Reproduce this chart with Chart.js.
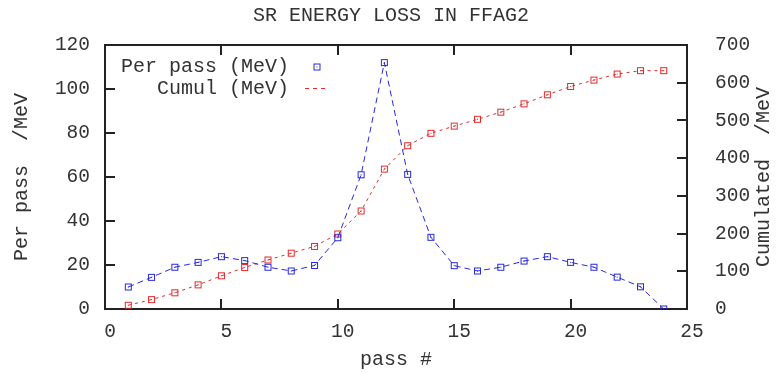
<!DOCTYPE html>
<html>
<head>
<meta charset="utf-8">
<script src="https://cdn.jsdelivr.net/npm/chart.js@4/dist/chart.umd.min.js"></script>
<style>
  html, body { margin: 0; padding: 0; background: #fff; }
  canvas { display: block; }
</style>
</head>
<body>
<canvas id="c" width="782" height="373"></canvas>
<script>
const passes = [1, 2, 3, 4, 5, 6, 7, 8, 9, 10, 11, 12, 13, 14, 15, 16, 17, 18, 19, 20, 21, 22, 23, 24];
const perPass = [10, 14.4, 19, 21.2, 23.8, 22, 19, 17.3, 19.8, 32.4, 61, 112, 61.2, 32.6, 19.7, 17.3, 19, 21.8, 23.8, 21.2, 19, 14.5, 10.1, 0];
const cumul = [10, 25, 43, 64, 88, 110, 130, 148, 166, 199, 260, 371, 433, 466, 485, 503, 522, 544, 568, 590, 607, 623, 632, 632];
const xTicks = [0, 5, 10, 15, 20, 25];
const yTicks = [0, 20, 40, 60, 80, 100, 120];
const y2Ticks = [0, 100, 200, 300, 400, 500, 600, 700];

const FONT = "'Liberation Mono', 'Courier New', monospace";
const TEXT = '#333';
const BLUE = 'rgb(40,40,220)';
const RED = 'rgb(230,40,40)';

function marker(color) {
  const c = document.createElement('canvas');
  c.width = 9; c.height = 9;
  const g = c.getContext('2d');
  g.strokeStyle = color; g.lineWidth = 1;
  g.strokeRect(1.5, 1.5, 6, 6);
  g.fillStyle = color;
  g.fillRect(4, 4, 1, 1);
  return c;
}
const blueMarker = marker(BLUE);
const redMarker = marker(RED);

const decor = {
  id: 'decor',
  beforeDatasetsDraw(chart) {
    const { ctx, chartArea: a, scales } = chart;
    ctx.save();
    ctx.strokeStyle = '#222';
    ctx.lineWidth = 2;
    ctx.strokeRect(a.left, a.top, a.right - a.left, a.bottom - a.top);
    const L = 10;
    ctx.beginPath();
    xTicks.slice(1, -1).forEach(v => {
      const px = Math.round(scales.x.getPixelForValue(v));
      ctx.moveTo(px, a.bottom); ctx.lineTo(px, a.bottom - L);
      ctx.moveTo(px, a.top); ctx.lineTo(px, a.top + L);
    });
    yTicks.slice(1, -1).forEach(v => {
      const py = Math.round(scales.y.getPixelForValue(v));
      ctx.moveTo(a.left, py); ctx.lineTo(a.left + L, py);
    });
    y2Ticks.slice(1, -1).forEach(v => {
      const py = Math.round(scales.y2.getPixelForValue(v));
      ctx.moveTo(a.right, py); ctx.lineTo(a.right - L, py);
    });
    ctx.stroke();
    ctx.restore();
  },
  afterDraw(chart) {
    const { ctx, chartArea: a } = chart;
    ctx.save();
    ctx.fillStyle = TEXT;
    ctx.font = '20px ' + FONT;
    ctx.textBaseline = 'middle';
    // axis titles
    ctx.textAlign = 'center';
    ctx.fillText('pass #', (a.left + a.right) / 2, 360);
    const cy = (a.top + a.bottom) / 2;
    ctx.save();
    ctx.translate(22, cy); ctx.rotate(-Math.PI / 2);
    ctx.fillText('Per pass  /MeV', 0, 0);
    ctx.restore();
    ctx.save();
    ctx.translate(764, cy); ctx.rotate(-Math.PI / 2);
    ctx.fillText('Cumulated  /MeV', 0, 0);
    ctx.restore();
    // legend
    ctx.textAlign = 'right';
    ctx.fillText('Per pass (MeV)', 289, 67);
    ctx.fillText('Cumul (MeV)', 289, 89);
    ctx.drawImage(blueMarker, 317 - 4.5, 67 - 4.5);
    ctx.strokeStyle = RED; ctx.lineWidth = 1;
    ctx.setLineDash([4, 4]);
    ctx.beginPath(); ctx.moveTo(305, 88.5); ctx.lineTo(329, 88.5); ctx.stroke();
    ctx.restore();
  }
};

const tickFont = { family: FONT, size: 19.5 };

new Chart(document.getElementById('c'), {
  type: 'line',
  data: {
    datasets: [
      {
        label: 'Per pass (MeV)',
        data: passes.map((p, i) => ({ x: p, y: perPass[i] })),
        yAxisID: 'y',
        borderColor: BLUE, borderWidth: 1, borderDash: [6, 4],
        pointStyle: blueMarker, fill: false, tension: 0
      },
      {
        label: 'Cumul (MeV)',
        data: passes.map((p, i) => ({ x: p, y: cumul[i] })),
        yAxisID: 'y2',
        borderColor: RED, borderWidth: 1, borderDash: [3, 4],
        pointStyle: redMarker, fill: false, tension: 0
      }
    ]
  },
  options: {
    responsive: false,
    animation: false,
    devicePixelRatio: 1,
    layout: { padding: 0 },
    plugins: {
      legend: { display: false },
      tooltip: { enabled: false },
      title: {
        display: true,
        text: 'SR ENERGY LOSS IN FFAG2',
        color: TEXT,
        font: { family: FONT, size: 20, weight: 'normal' },
        padding: { top: 4, bottom: 17 }
      }
    },
    scales: {
      x: {
        type: 'linear', min: 0, max: 25,
        afterBuildTicks: s => { s.ticks = xTicks.map(v => ({ value: v })); },
        ticks: { font: tickFont, color: TEXT, padding: 11, labelOffset: 5, maxRotation: 0 },
        grid: { display: false, drawTicks: false },
        border: { display: false },
        afterFit: s => { s.height = 64; }
      },
      y: {
        position: 'left', min: 0, max: 120,
        afterBuildTicks: s => { s.ticks = yTicks.map(v => ({ value: v })); },
        ticks: { font: tickFont, color: TEXT, padding: 15 },
        grid: { display: false, drawTicks: false },
        border: { display: false },
        afterFit: s => { s.width = 105; }
      },
      y2: {
        position: 'right', min: 0, max: 700,
        afterBuildTicks: s => { s.ticks = y2Ticks.map(v => ({ value: v })); },
        ticks: { font: tickFont, color: TEXT, padding: 28 },
        grid: { display: false, drawTicks: false },
        border: { display: false },
        afterFit: s => { s.width = 95; }
      }
    }
  },
  plugins: [decor]
});
</script>
</body>
</html>
